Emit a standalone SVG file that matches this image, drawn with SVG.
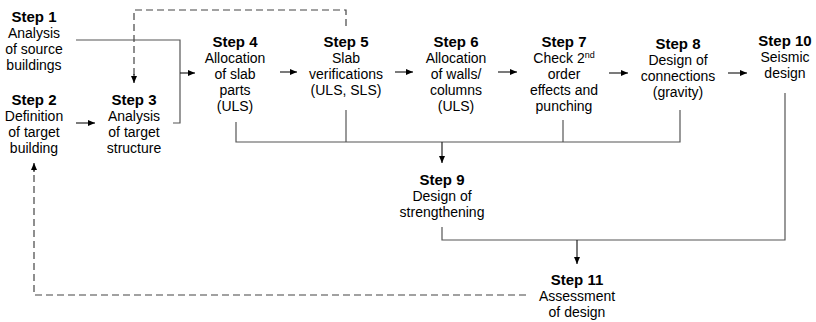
<svg xmlns="http://www.w3.org/2000/svg" width="816" height="322" viewBox="0 0 816 322">
<defs>
<marker id="ah" markerWidth="7" markerHeight="6" refX="7" refY="3" orient="auto" markerUnits="userSpaceOnUse">
<path d="M0,0 L7,3 L0,6 Z" fill="#000"/>
</marker>
<style>
.t{font-family:"Liberation Sans",Arial,sans-serif;font-size:15px;font-weight:bold;fill:#000;text-anchor:middle}
.b{font-family:"Liberation Sans",Arial,sans-serif;font-size:14px;fill:#000;text-anchor:middle}
.c{fill:none;stroke:#555;stroke-width:1.2}
.a{fill:none;stroke:#222;stroke-width:1.2;marker-end:url(#ah)}
.d{fill:none;stroke:#444;stroke-width:1.2;stroke-dasharray:7,4}
</style>
</defs>
<g id="connectors">
<polyline class="c" points="76,40 180,40 180,123 173,123"/>
<line class="a" x1="180" y1="73" x2="195" y2="73"/>
<line class="a" x1="76" y1="123" x2="95" y2="123"/>
<polyline class="d" points="346,26 346,10 134,10 134,75"/>
<line class="a" x1="134" y1="74" x2="134" y2="83"/>
<line class="a" x1="280" y1="72" x2="297" y2="72"/>
<line class="a" x1="395" y1="72" x2="413" y2="72"/>
<line class="a" x1="498" y1="72" x2="517" y2="72"/>
<line class="a" x1="609" y1="73" x2="628" y2="73"/>
<line class="a" x1="728" y1="73" x2="747" y2="73"/>
<polyline class="c" points="236,122 236,142 680,142 680,110"/>
<line class="c" x1="346" y1="110" x2="346" y2="142"/>
<line class="c" x1="563" y1="120" x2="563" y2="142"/>
<line class="a" x1="442" y1="142" x2="442" y2="163"/>
<polyline class="c" points="442,227 442,240 785,240 785,93"/>
<line class="a" x1="577" y1="240" x2="577" y2="264"/>
<polyline class="d" points="526,295 34,295 34,170"/>
<line class="a" x1="34" y1="172" x2="34" y2="163"/>
</g>
<g id="step1"><text class="t" x="34" y="22">Step 1</text><text class="b" x="34" y="38">Analysis</text><text class="b" x="34" y="54">of source</text><text class="b" x="34" y="70">buildings</text></g>
<g id="step2"><text class="t" x="34" y="105">Step 2</text><text class="b" x="34" y="121">Definition</text><text class="b" x="34" y="137">of target</text><text class="b" x="34" y="153">building</text></g>
<g id="step3"><text class="t" x="134" y="105">Step 3</text><text class="b" x="134" y="121">Analysis</text><text class="b" x="134" y="137">of target</text><text class="b" x="134" y="153">structure</text></g>
<g id="step4"><text class="t" x="235" y="47">Step 4</text><text class="b" x="235" y="63">Allocation</text><text class="b" x="235" y="79">of slab</text><text class="b" x="235" y="95">parts</text><text class="b" x="235" y="111">(ULS)</text></g>
<g id="step5"><text class="t" x="346" y="47">Step 5</text><text class="b" x="346" y="63">Slab</text><text class="b" x="346" y="79">verifications</text><text class="b" x="346" y="95">(ULS, SLS)</text></g>
<g id="step6"><text class="t" x="456" y="47">Step 6</text><text class="b" x="456" y="63">Allocation</text><text class="b" x="456" y="79">of walls/</text><text class="b" x="456" y="95">columns</text><text class="b" x="456" y="111">(ULS)</text></g>
<g id="step7"><text class="t" x="564" y="47">Step 7</text><text class="b" x="564" y="63">Check 2<tspan font-size="9" dy="-5">nd</tspan></text><text class="b" x="564" y="79">order</text><text class="b" x="564" y="95">effects and</text><text class="b" x="564" y="111">punching</text></g>
<g id="step8"><text class="t" x="678" y="49">Step 8</text><text class="b" x="678" y="65">Design of</text><text class="b" x="678" y="81">connections</text><text class="b" x="678" y="97">(gravity)</text></g>
<g id="step10"><text class="t" x="785" y="46">Step 10</text><text class="b" x="785" y="62">Seismic</text><text class="b" x="785" y="78">design</text></g>
<g id="step9"><text class="t" x="442" y="185">Step 9</text><text class="b" x="442" y="201">Design of</text><text class="b" x="442" y="217">strengthening</text></g>
<g id="step11"><text class="t" x="577" y="285">Step 11</text><text class="b" x="577" y="301">Assessment</text><text class="b" x="577" y="317">of design</text></g>
</svg>
